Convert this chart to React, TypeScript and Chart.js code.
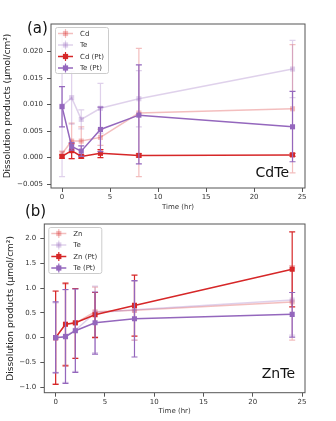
import { useEffect, useRef } from "react";
import { Chart, registerables } from "chart.js";

Chart.register(...registerables);

const FONT = "'DejaVu Sans', sans-serif";

const hours = [0, 1, 2, 4, 8, 24];
const timeTicks = [0, 5, 10, 15, 20, 25];

// CdTe panel: means with lower / upper error bounds
const cdteYTicks = [-0.005, 0, 0.005, 0.01, 0.015, 0.02];
const cdteCd = [0.0007, 0.0031, 0.0031, 0.0038, 0.0084, 0.0092];
const cdteCdLow = [0.0002, -0.0002, 0.0004, 0.0023, -0.0036, -0.0029];
const cdteCdHigh = [0.0012, 0.0065, 0.0058, 0.0053, 0.0206, 0.0213];
const cdteTe = [0.0097, 0.0113, 0.0072, 0.0093, 0.0111, 0.0167];
const cdteTeLow = [-0.0036, 0.0063, 0.0054, 0.0046, 0.0058, 0.0113];
const cdteTeHigh = [0.023, 0.0163, 0.009, 0.014, 0.0164, 0.0221];
const cdteCdPt = [0.0002, 0.0013, 0.0002, 0.0008, 0.0004, 0.0005];
const cdteCdPtLow = [-0.0001, -0.0002, -0.0001, 0.0, 0.0001, 0.0002];
const cdteCdPtHigh = [0.0005, 0.0026, 0.0005, 0.0015, 0.0007, 0.0008];
const cdteTePt = [0.0096, 0.0021, 0.0012, 0.0053, 0.008, 0.0058];
const cdteTePtLow = [0.0058, 0.0014, 0.0002, 0.0011, -0.0012, -0.0008];
const cdteTePtHigh = [0.0134, 0.0028, 0.0022, 0.0095, 0.0175, 0.0125];

// ZnTe panel
const znteYTicks = [-1, -0.5, 0, 0.5, 1, 1.5, 2];
const znteZn = [0.0, 0.27, 0.29, 0.52, 0.55, 0.72];
const znteZnLow = [-0.93, -0.55, -0.4, 0.02, -0.05, -0.05];
const znteZnHigh = [0.93, 1.08, 0.98, 1.02, 1.15, 1.45];
const znteTe = [0.0, 0.03, 0.15, 0.5, 0.56, 0.76];
const znteTeLow = [-0.7, -0.9, -0.68, -0.3, -0.05, 0.05];
const znteTeHigh = [0.7, 0.96, 0.98, 1.04, 1.14, 1.4];
const znteZnPt = [0.0, 0.27, 0.3, 0.46, 0.65, 1.38];
const znteZnPtLow = [-0.94, -0.57, -0.42, 0.0, 0.03, 0.62];
const znteZnPtHigh = [0.94, 1.1, 0.99, 0.91, 1.26, 2.13];
const znteTePt = [0.0, 0.02, 0.14, 0.3, 0.38, 0.47];
const znteTePtLow = [-0.71, -0.92, -0.7, -0.33, -0.39, 0.01];
const znteTePtHigh = [0.72, 0.97, 0.98, 0.92, 1.15, 0.91];

const RED = "rgb(214,39,40)";
const PURPLE = "rgb(148,103,189)";
const RED_FADED = "rgba(214,39,40,0.3)";
const PURPLE_FADED = "rgba(148,103,189,0.3)";

const Y_TITLE = "Dissolution products (μmol/cm²)";

function fmt(v: number, digits: number) {
  const s = Math.abs(v).toFixed(digits);
  return v < -1e-12 ? "\u2212" + s : s;
}

function series(label: string, vals: number[], lo: number[], hi: number[], color: string, order: number) {
  return {
    label,
    data: hours.map((h, i) => ({ x: h, y: vals[i] })),
    errLow: lo,
    errHigh: hi,
    borderColor: color,
    backgroundColor: color,
    pointBackgroundColor: color,
    pointBorderColor: color,
    pointBorderWidth: 0,
    pointStyle: "rect",
    pointRadius: 3.6,
    borderWidth: 1.5,
    order,
  };
}

const errorBars = {
  id: "errorBars",
  beforeDatasetDraw(chart: any, args: any) {
    const ds = chart.data.datasets[args.index];
    if (!ds.errLow) return;
    const { ctx, chartArea: a, scales } = chart;
    const x = scales.x;
    const y = scales.y;
    ctx.save();
    ctx.beginPath();
    ctx.rect(a.left, a.top, a.right - a.left, a.bottom - a.top);
    ctx.clip();
    ctx.strokeStyle = ds.borderColor;
    ctx.lineWidth = 1.2;
    ctx.beginPath();
    ds.data.forEach((p: any, i: number) => {
      const px = x.getPixelForValue(p.x);
      const lo = y.getPixelForValue(ds.errLow[i]);
      const hi = y.getPixelForValue(ds.errHigh[i]);
      ctx.moveTo(px, lo);
      ctx.lineTo(px, hi);
      ctx.moveTo(px - 3, lo);
      ctx.lineTo(px + 3, lo);
      ctx.moveTo(px - 3, hi);
      ctx.lineTo(px + 3, hi);
    });
    ctx.stroke();
    ctx.restore();
  },
};

const frame = {
  id: "frame",
  afterDatasetsDraw(chart: any) {
    const { ctx, chartArea: a } = chart;
    ctx.save();
    ctx.strokeStyle = "#555";
    ctx.lineWidth = 1;
    ctx.strokeRect(a.left, a.top, a.right - a.left, a.bottom - a.top);
    ctx.restore();
  },
};

const boxLegend = {
  id: "boxLegend",
  afterDraw(chart: any) {
    const { ctx, chartArea: a } = chart;
    const bx = a.left + 4.5;
    const by = a.top + 3.5;
    const bw = 53;
    const bh = 46;
    ctx.save();
    ctx.fillStyle = "rgba(255,255,255,0.85)";
    ctx.strokeStyle = "#ccc";
    ctx.lineWidth = 1;
    ctx.beginPath();
    ctx.roundRect(bx, by, bw, bh, 2);
    ctx.fill();
    ctx.stroke();
    ctx.font = `7px ${FONT}`;
    ctx.textBaseline = "middle";
    ctx.textAlign = "left";
    chart.data.datasets.forEach((ds: any, i: number) => {
      const ry = by + 6 + i * 11.5;
      const cx = bx + 10;
      ctx.strokeStyle = ds.borderColor;
      ctx.fillStyle = ds.borderColor;
      ctx.lineWidth = 1.5;
      ctx.beginPath();
      ctx.moveTo(bx + 2.5, ry);
      ctx.lineTo(bx + 17.5, ry);
      ctx.stroke();
      ctx.lineWidth = 1.2;
      ctx.beginPath();
      ctx.moveTo(cx, ry - 4.5);
      ctx.lineTo(cx, ry + 4.5);
      ctx.stroke();
      ctx.fillRect(cx - 2.6, ry - 2.6, 5.2, 5.2);
      ctx.fillStyle = "#333";
      ctx.fillText(ds.label, bx + 24.5, ry + 0.5);
    });
    ctx.restore();
  },
};

const panelText = {
  id: "panelText",
  afterDraw(chart: any) {
    const items = chart.options.plugins.panelText?.items || [];
    const { ctx } = chart;
    ctx.save();
    ctx.fillStyle = "#111";
    ctx.textBaseline = "middle";
    items.forEach((t: any) => {
      ctx.font = `${t.size}px ${FONT}`;
      ctx.textAlign = t.align;
      ctx.fillText(t.text, t.x, t.y);
    });
    ctx.restore();
  },
};

type PanelSpec = {
  datasets: any[];
  yMin: number;
  yMax: number;
  yTicks: number[];
  digits: number;
  yAxisWidth: number;
  yTitlePad: number;
  xAxisHeight: number;
  xTitlePad: number;
  padTop: number;
  texts: any[];
};

function makeConfig(p: PanelSpec): any {
  return {
    type: "line",
    data: { datasets: p.datasets },
    plugins: [errorBars, frame, boxLegend, panelText],
    options: {
      animation: false,
      responsive: false,
      devicePixelRatio: 1,
      layout: { padding: { left: 0, right: 31, top: p.padTop, bottom: 0 } },
      plugins: {
        legend: { display: false },
        tooltip: { enabled: false },
        panelText: { items: p.texts },
      },
      scales: {
        x: {
          type: "linear",
          min: -1.15,
          max: 25.3,
          afterBuildTicks: (s: any) => {
            s.ticks = timeTicks.map((v) => ({ value: v }));
          },
          afterFit: (s: any) => {
            s.height = p.xAxisHeight;
          },
          ticks: {
            callback: (v: any) => String(v),
            font: { family: FONT, size: 7 },
            color: "#333",
            padding: 1,
            maxRotation: 0,
          },
          grid: { drawOnChartArea: false, tickLength: 4, tickColor: "#555" },
          border: { display: false },
          title: {
            display: true,
            text: "Time (hr)",
            font: { family: FONT, size: 7 },
            color: "#333",
            padding: { top: 0, bottom: p.xTitlePad },
          },
        },
        y: {
          type: "linear",
          min: p.yMin,
          max: p.yMax,
          afterBuildTicks: (s: any) => {
            s.ticks = p.yTicks.map((v) => ({ value: v }));
          },
          afterFit: (s: any) => {
            s.width = p.yAxisWidth;
          },
          ticks: {
            callback: (v: any) => fmt(Number(v), p.digits),
            font: { family: FONT, size: 7 },
            color: "#333",
            padding: 4,
          },
          grid: { drawOnChartArea: false, tickLength: 4, tickColor: "#555" },
          border: { display: false },
          title: {
            display: true,
            text: Y_TITLE,
            font: { family: FONT, size: 9 },
            color: "#222",
            padding: { top: p.yTitlePad, bottom: 0 },
          },
        },
      },
    },
  };
}

const cdteSpec: PanelSpec = {
  datasets: [
    series("Cd", cdteCd, cdteCdLow, cdteCdHigh, RED_FADED, 3),
    series("Te", cdteTe, cdteTeLow, cdteTeHigh, PURPLE_FADED, 2),
    series("Cd (Pt)", cdteCdPt, cdteCdPtLow, cdteCdPtHigh, RED, 1),
    series("Te (Pt)", cdteTePt, cdteTePtLow, cdteTePtHigh, PURPLE, 0),
  ],
  yMin: -0.00575,
  yMax: 0.0252,
  yTicks: cdteYTicks,
  digits: 3,
  yAxisWidth: 51,
  yTitlePad: 2,
  xAxisHeight: 24,
  xTitlePad: 1,
  padTop: 24,
  texts: [
    { text: "(a)", x: 27, y: 29.5, size: 15, align: "left" },
    { text: "CdTe", x: 289, y: 173, size: 14, align: "right" },
  ],
};

const znteSpec: PanelSpec = {
  datasets: [
    series("Zn", znteZn, znteZnLow, znteZnHigh, RED_FADED, 3),
    series("Te", znteTe, znteTeLow, znteTeHigh, PURPLE_FADED, 2),
    series("Zn (Pt)", znteZnPt, znteZnPtLow, znteZnPtHigh, RED, 1),
    series("Te (Pt)", znteTePt, znteTePtLow, znteTePtHigh, PURPLE, 0),
  ],
  yMin: -1.109,
  yMax: 2.29,
  yTicks: znteYTicks,
  digits: 1,
  yAxisWidth: 44.3,
  yTitlePad: 5,
  xAxisHeight: 28.3,
  xTitlePad: 6,
  padTop: 24,
  texts: [
    { text: "(b)", x: 25, y: 12.5, size: 15, align: "left" },
    { text: "ZnTe", x: 295, y: 174, size: 14, align: "right" },
  ],
};

function Panel({ spec, top, height }: { spec: PanelSpec; top: number; height: number }) {
  const ref = useRef<HTMLCanvasElement>(null);
  useEffect(() => {
    const chart = new Chart(ref.current as HTMLCanvasElement, makeConfig(spec));
    return () => chart.destroy();
  }, [spec]);
  return (
    <canvas
      ref={ref}
      width={336}
      height={height}
      style={{ position: "absolute", left: 0, top, width: 336, height, display: "block" }}
    />
  );
}

export default function App() {
  return (
    <div style={{ position: "absolute", left: 0, top: 0, width: 336, height: 421, background: "#fff" }}>
      <Panel spec={znteSpec} top={200} height={221} />
      <Panel spec={cdteSpec} top={0} height={212} />
    </div>
  );
}
